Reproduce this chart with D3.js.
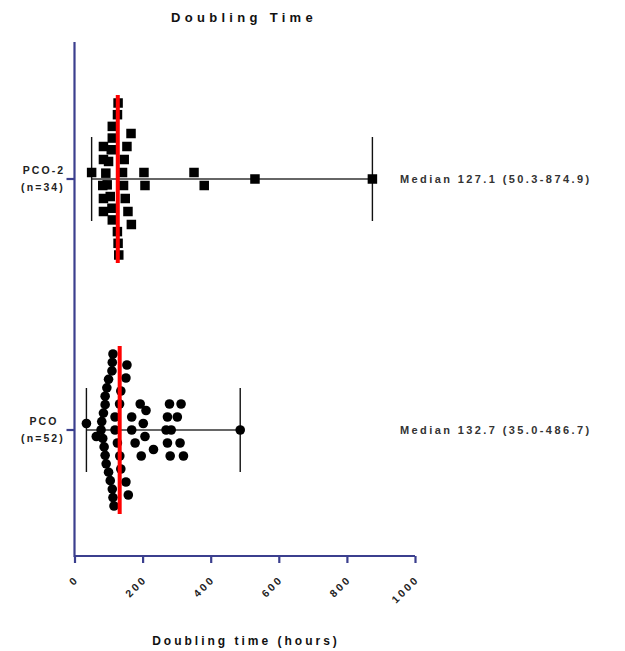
<!DOCTYPE html>
<html>
<head>
<meta charset="utf-8">
<script src="https://cdn.jsdelivr.net/npm/d3@7"></script>
<style>
  html, body { margin: 0; padding: 0; background: #fff; }
  svg { display: block; }
  text { font-family: "Liberation Sans", Arial, sans-serif; font-weight: bold; }
</style>
</head>
<body>
<svg id="chart" width="625" height="651"></svg>
<script>
// ---------------- data ----------------
const title = "Doubling Time";
const xLabel = "Doubling time (hours)";
const categories = ["PCO-2", "PCO"];
const counts = [34, 52];
const medians = [127.1, 132.7];
const mins = [50.3, 35.0];
const maxs = [874.9, 486.7];
const xTicks = [0, 200, 400, 600, 800, 1000];

const pco2Values = [128, 126.2, 111, 167, 111, 85, 157, 108, 85, 100, 149, 83, 92, 144, 204, 381,
  50.3, 96, 141, 207, 351, 85, 105, 146, 110, 85, 154, 111, 166, 126, 128, 130, 530, 874.9];

const pcoValues = [111, 151, 111, 136, 100, 95, 132.4, 207, 302, 90, 87, 196, 281, 313, 83, 178,
  273, 119, 64, 78, 113, 158, 232, 35.0, 80, 116, 168, 269, 310, 486.7, 210, 85, 119, 154, 273,
  320, 168, 90, 90, 126, 279, 93, 193, 284, 100, 133, 202, 105, 136, 110, 113, 151];

const seriesValues = [pco2Values, pcoValues];
const symbols = ["square", "circle"];

// ---------------- layout ----------------
const svg = d3.select("#chart");
const axisColor = "#3b3f8e";

const x = d3.scaleLinear().domain([0, 1000]).range([74.5, 415]);
const y = d3.scalePoint().domain(categories).range([179, 430]);

const axisTop = 42, axisBottom = 556;

// title
svg.append("text")
  .attr("x", 244).attr("y", 22)
  .attr("text-anchor", "middle")
  .style("font-size", "13px").style("letter-spacing", "4.3px")
  .attr("fill", "#111")
  .text(title);

// x axis
const xAxisG = svg.append("g").attr("transform", `translate(0,${axisBottom})`);
xAxisG.call(d3.axisBottom(x).tickValues(xTicks).tickSize(7).tickFormat(""));
xAxisG.select(".domain").attr("stroke", axisColor).attr("stroke-width", 2.2)
  .attr("d", `M${x(0)},0H${x(1000)}`);
xAxisG.selectAll(".tick line").attr("stroke", axisColor).attr("stroke-width", 2.2);

xAxisG.selectAll(".tlabel")
  .data(xTicks).enter().append("text")
  .attr("class", "tlabel")
  .attr("transform", d => `translate(${x(d) + 5},${24}) rotate(-45)`)
  .attr("text-anchor", "end")
  .style("font-size", "10.5px").style("letter-spacing", "2.6px")
  .attr("fill", "#222")
  .text(d => d);

svg.append("text")
  .attr("x", 246).attr("y", 645)
  .attr("text-anchor", "middle")
  .style("font-size", "12px").style("letter-spacing", "3px")
  .attr("fill", "#111")
  .text(xLabel);

// y axis
svg.append("line")
  .attr("x1", x(0)).attr("x2", x(0))
  .attr("y1", axisTop).attr("y2", axisBottom + 1)
  .attr("stroke", axisColor).attr("stroke-width", 2.2);

categories.forEach((c, i) => {
  const cy = y(c);
  svg.append("line")
    .attr("x1", x(0) - 8).attr("x2", x(0))
    .attr("y1", cy).attr("y2", cy)
    .attr("stroke", axisColor).attr("stroke-width", 2.2);
  const t = svg.append("text")
    .attr("text-anchor", "middle")
    .style("font-size", "10.5px").style("letter-spacing", "2.1px")
    .attr("fill", "#222");
  t.append("tspan").attr("x", 44).attr("y", cy - 5).text(c);
  t.append("tspan").attr("x", 43).attr("y", cy + 12).text(`(n=${counts[i]})`);
});

// Prism-style scatter layout: values binned along the value axis, each bin
// sorted and spread perpendicular from the centre outward (compressed if crowded)
function scatterLayout(values, binWidth, step, maxHalf) {
  const origin = d3.min(values);
  const bins = d3.groups(values.map(v => ({ v })), d => Math.floor((d.v - origin) / binWidth + 1e-9));
  const out = [];
  bins.forEach(([, arr]) => {
    arr.sort((a, b) => a.v - b.v);
    const n = arr.length;
    const s = n > 1 ? Math.min(step, (2 * maxHalf) / (n - 1)) : step;
    arr.forEach((d, k) => {
      let off;
      if (n % 2 === 1) {
        const lvl = Math.ceil(k / 2);
        off = (k % 2 === 1 ? -1 : 1) * lvl * s;
      } else {
        const lvl = Math.floor(k / 2) + 0.5;
        off = (k % 2 === 0 ? -1 : 1) * lvl * s;
      }
      out.push({ v: d.v, px: x(d.v), off });
    });
  });
  return out;
}

categories.forEach((c, i) => {
  const cy = y(c);
  const g = svg.append("g");
  // whiskers (range)
  g.append("line")
    .attr("x1", x(mins[i])).attr("x2", x(maxs[i]))
    .attr("y1", cy).attr("y2", cy)
    .attr("stroke", "#333").attr("stroke-width", 1.4);
  [mins[i], maxs[i]].forEach(v => {
    g.append("line")
      .attr("x1", x(v)).attr("x2", x(v))
      .attr("y1", cy - 42).attr("y2", cy + 42)
      .attr("stroke", "#111").attr("stroke-width", 1.4);
  });

  const pts = scatterLayout(seriesValues[i], 41.5, 13, 76);
  if (symbols[i] === "square") {
    g.selectAll("rect.pt").data(pts).enter().append("rect")
      .attr("class", "pt")
      .attr("x", d => d.px - 4.75).attr("y", d => cy + d.off - 4.75)
      .attr("width", 9.5).attr("height", 9.5)
      .attr("fill", "#000");
  } else {
    g.selectAll("circle.pt").data(pts).enter().append("circle")
      .attr("class", "pt")
      .attr("cx", d => d.px).attr("cy", d => cy + d.off)
      .attr("r", 4.8)
      .attr("fill", "#000");
  }

  // median
  g.append("line")
    .attr("x1", x(medians[i])).attr("x2", x(medians[i]))
    .attr("y1", cy - 84).attr("y2", cy + 84)
    .attr("stroke", "#ff0000").attr("stroke-width", 4);

  // annotation
  svg.append("text")
    .attr("x", 400).attr("y", cy + 4)
    .style("font-size", "11px").style("letter-spacing", "2.4px")
    .attr("fill", "#333")
    .text(`Median ${medians[i].toFixed(1)} (${mins[i].toFixed(1)}-${maxs[i].toFixed(1)})`);
});
</script>
</body>
</html>
